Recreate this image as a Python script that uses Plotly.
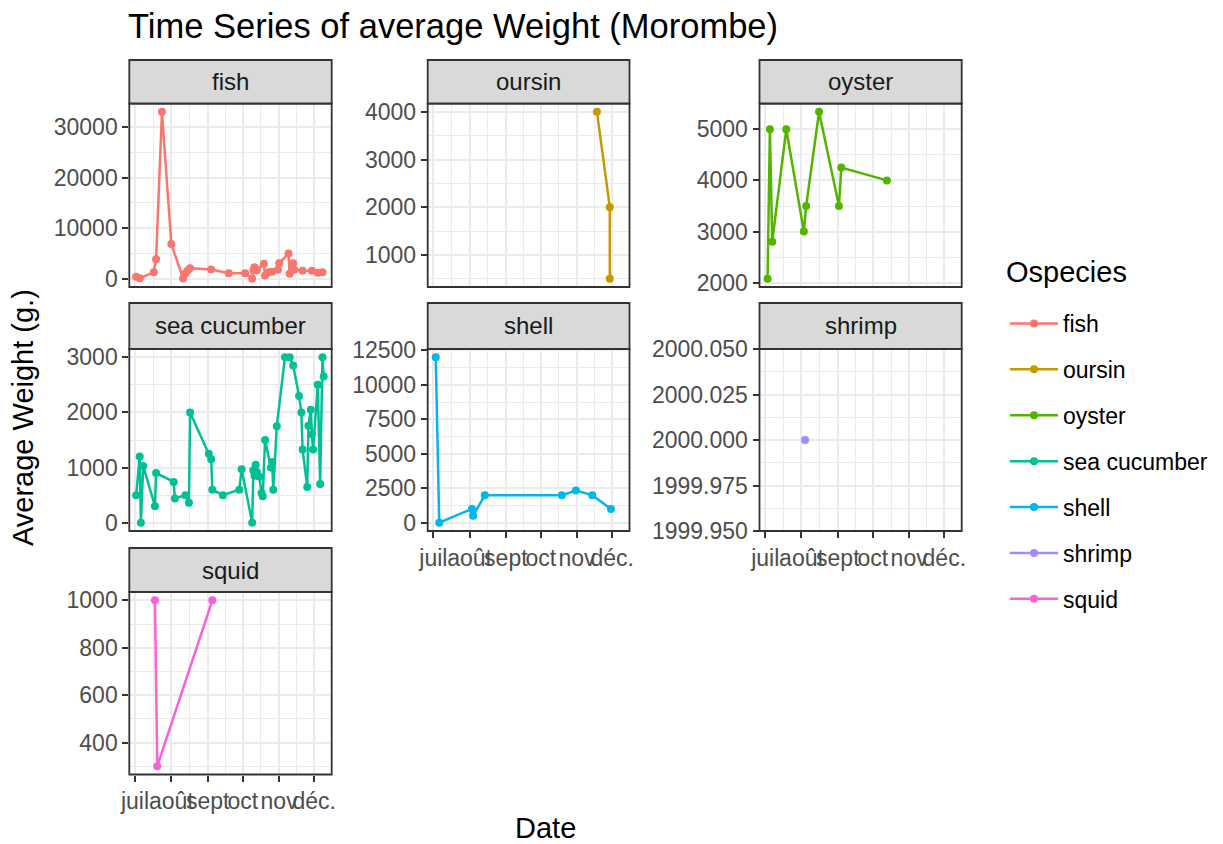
import plotly.graph_objects as go

# ---------------- data ----------------
species = ["fish", "oursin", "oyster", "sea cucumber", "shell", "shrimp", "squid"]

fish_dates = ["2023-07-02", "2023-07-05", "2023-07-17", "2023-07-19", "2023-07-24", "2023-08-01",
              "2023-08-11", "2023-08-13", "2023-08-15", "2023-08-17", "2023-09-04", "2023-09-19",
              "2023-10-03", "2023-10-09", "2023-10-10", "2023-10-11", "2023-10-13", "2023-10-19",
              "2023-10-20", "2023-10-23", "2023-10-26", "2023-10-31", "2023-11-01", "2023-11-09",
              "2023-11-10", "2023-11-13", "2023-11-14", "2023-11-21", "2023-11-29", "2023-12-04",
              "2023-12-08"]
fish_values = [450, 150, 1300, 3900, 33000, 6900,
               100, 1100, 1650, 2100, 1850, 1100,
               1100, 50, 1700, 2300, 1700, 3000,
               650, 1300, 1400, 1800, 3100, 5000,
               1000, 3100, 1800, 1600, 1600, 1200,
               1300]

oursin_dates = ["2023-11-18", "2023-11-29", "2023-11-29"]
oursin_values = [4000, 2000, 500]

oyster_dates = ["2023-07-03", "2023-07-05", "2023-07-07", "2023-07-19", "2023-08-03",
                "2023-08-05", "2023-08-16", "2023-09-02", "2023-09-04", "2023-10-13"]
oyster_values = [2080, 5000, 2800, 5000, 3000, 3500, 5340, 3500, 4250, 4000]

seacuc_dates = ["2023-07-02", "2023-07-05", "2023-07-06", "2023-07-08", "2023-07-18", "2023-07-19",
                "2023-08-03", "2023-08-04", "2023-08-13", "2023-08-16", "2023-08-17", "2023-09-02",
                "2023-09-04", "2023-09-05", "2023-09-14", "2023-09-28", "2023-09-30", "2023-10-09",
                "2023-10-10", "2023-10-11", "2023-10-12", "2023-10-13", "2023-10-15", "2023-10-17",
                "2023-10-18", "2023-10-20", "2023-10-25", "2023-10-26", "2023-10-27", "2023-10-30",
                "2023-11-06", "2023-11-10", "2023-11-13", "2023-11-18", "2023-11-20", "2023-11-21",
                "2023-11-25", "2023-11-26", "2023-11-28", "2023-11-29", "2023-11-30", "2023-12-04",
                "2023-12-06", "2023-12-08", "2023-12-09"]
seacuc_values = [500, 1200, 0, 1030, 300, 900,
                 740, 440, 500, 360, 2000, 1250,
                 1150, 600, 500, 600, 970, 0,
                 950, 850, 1050, 920, 840, 540,
                 480, 1500, 1000, 1100, 600, 1750,
                 3000, 3000, 2850, 2300, 2000, 1330,
                 650, 1760, 2050, 1600, 1330, 2500,
                 700, 3000, 2650]

shell_dates = ["2023-07-03", "2023-07-06", "2023-08-03", "2023-08-04", "2023-08-14",
               "2023-10-19", "2023-10-31", "2023-11-14", "2023-11-30"]
shell_values = [12000, 0, 1000, 500, 2000, 2000, 2330, 2000, 1000]

shrimp_dates = ["2023-08-04"]
shrimp_values = [2000]

squid_dates = ["2023-07-18", "2023-07-20", "2023-09-05"]
squid_values = [1000, 300, 1000]

month_ticks = ["2023-07-01", "2023-08-01", "2023-09-01", "2023-10-01", "2023-11-01", "2023-12-01"]
month_labels = ["juil", "août", "sept", "oct", "nov", "déc."]
minor_ticks = ["2023-07-16 12:00", "2023-08-16 12:00", "2023-09-16", "2023-10-16 12:00", "2023-11-16"]

series_x = [fish_dates, oursin_dates, oyster_dates, seacuc_dates, shell_dates, shrimp_dates, squid_dates]
series_y = [fish_values, oursin_values, oyster_values, seacuc_values, shell_values, shrimp_values, squid_values]
colors = ["#F8766D", "#C49A00", "#53B400", "#00C094", "#00B6EB", "#A58AFF", "#FB61D7"]

# ---------------- layout geometry (page pixels) ----------------
OFF = 8                      # default page body margin
W, H = 1223 - OFF, 844 - OFF  # figure size so it fits the window exactly


def px(x):
    return (x - OFF) / W


def py(y):
    return 1 - (y - OFF) / H


col_px = [(129.3, 331.7), (427.7, 629.5), (759.5, 961.7)]
row_px = [(103.5, 287.0), (349.0, 531.0), (592.0, 774.5)]
strip_px = [(60.0, 103.5), (303.0, 349.0), (548.0, 592.0)]
y_dtick = [10000, 1000, 1000, 1000, 2500, 0.025, 200]
y_tick0 = [0, 0, 0, 0, 0, 2000, 0]
x_labelled = [False, False, False, False, True, True, True]

FONT = "Liberation Sans, Arial, Helvetica, sans-serif"
TICK = 23
STRIP = 24
LEG = 23
GRID = "#EBEBEB"
DARK = "#333333"

fig = go.Figure()
shapes = []
annotations = []
layout_axes = {}

for i, name in enumerate(species):
    r, c = divmod(i, 3)
    k = i + 1
    xs = "" if k == 1 else str(k)
    fig.add_trace(go.Scatter(
        x=series_x[i], y=series_y[i], mode="lines+markers", name=name, legendgroup=name,
        line=dict(color=colors[i], width=2.5), marker=dict(color=colors[i], size=8),
        xaxis="x" + xs, yaxis="y" + xs))

    x0, x1 = col_px[c]
    yt, yb = row_px[r]
    vals = series_y[i]
    lo, hi = min(vals), max(vals)
    if hi == lo:
        yr = [lo - 0.05, hi + 0.05]
    else:
        e = 0.05 * (hi - lo)
        yr = [lo - e, hi + e]

    layout_axes["xaxis" + xs] = dict(
        domain=[px(x0), px(x1)], anchor="y" + xs, type="date", automargin=False,
        range=["2023-06-26 03:00", "2023-12-15 21:00"],
        tickmode="array", tickvals=month_ticks, ticktext=month_labels, tickangle=0,
        showticklabels=x_labelled[i], ticks="outside" if x_labelled[i] else "",
        ticklen=6, tickwidth=1.5, tickcolor=DARK,
        tickfont=dict(size=TICK, color="#4D4D4D", family=FONT),
        showgrid=True, gridcolor=GRID, gridwidth=2.2, zeroline=False, showline=False,
        minor=dict(tickmode="array", tickvals=minor_ticks, showgrid=True,
                   gridcolor=GRID, gridwidth=1.1, ticks=""),
    )
    layout_axes["yaxis" + xs] = dict(
        domain=[py(yb), py(yt)], anchor="x" + xs, range=yr, automargin=False,
        tickmode="linear", tick0=y_tick0[i], dtick=y_dtick[i],
        tickformat=".3f" if name == "shrimp" else "d",
        ticks="outside", ticklen=6, tickwidth=1.5, tickcolor=DARK,
        tickfont=dict(size=TICK, color="#4D4D4D", family=FONT),
        showgrid=True, gridcolor=GRID, gridwidth=2.2, zeroline=False, showline=False,
        minor=dict(dtick=y_dtick[i] / 2, tick0=y_tick0[i], showgrid=True,
                   gridcolor=GRID, gridwidth=1.1, ticks=""),
    )

    # panel border
    shapes.append(dict(type="rect", xref="paper", yref="paper",
                       x0=px(x0), x1=px(x1), y0=py(yb), y1=py(yt),
                       line=dict(color=DARK, width=1.8), fillcolor="rgba(0,0,0,0)", layer="above"))
    # strip
    st, sb = strip_px[r]
    shapes.append(dict(type="rect", xref="paper", yref="paper",
                       x0=px(x0), x1=px(x1), y0=py(sb), y1=py(st),
                       line=dict(color=DARK, width=1.8), fillcolor="#D9D9D9", layer="above"))
    annotations.append(dict(text=name, xref="paper", yref="paper",
                            x=px((x0 + x1) / 2), y=py((st + sb) / 2),
                            xanchor="center", yanchor="middle", showarrow=False,
                            font=dict(size=STRIP, color="#1A1A1A", family=FONT)))

annotations.append(dict(text="Average Weight (g.)", xref="paper", yref="paper",
                        x=px(23), y=py(418), textangle=-90, showarrow=False,
                        xanchor="center", yanchor="middle",
                        font=dict(size=29, color="#000000", family=FONT)))
annotations.append(dict(text="Date", xref="paper", yref="paper",
                        x=px(545.5), y=py(828), showarrow=False,
                        xanchor="center", yanchor="middle",
                        font=dict(size=29, color="#000000", family=FONT)))
annotations.append(dict(text="Ospecies", xref="paper", yref="paper",
                        x=px(1004), y=py(272), showarrow=False,
                        xanchor="left", yanchor="middle",
                        font=dict(size=29, color="#000000", family=FONT)))

fig.update_layout(
    width=W, height=H, autosize=False,
    margin=dict(l=0, r=0, t=0, b=0),
    paper_bgcolor="white", plot_bgcolor="white",
    font=dict(family=FONT, color="#000000"),
    title=dict(text="Time Series of average Weight (Morombe)", x=px(128), xanchor="left",
               xref="paper", y=py(26), yanchor="middle", pad=dict(l=0, r=0, t=0, b=0),
               font=dict(size=34.5, color="#000000", family=FONT)),
    shapes=shapes, annotations=annotations,
    legend=dict(x=px(1005), y=py(302), xanchor="left", yanchor="top",
                font=dict(size=LEG, color="#000000", family=FONT),
                itemwidth=48, tracegroupgap=13, bgcolor="rgba(0,0,0,0)"),
    **layout_axes,
)

fig.write_html("out.html")
